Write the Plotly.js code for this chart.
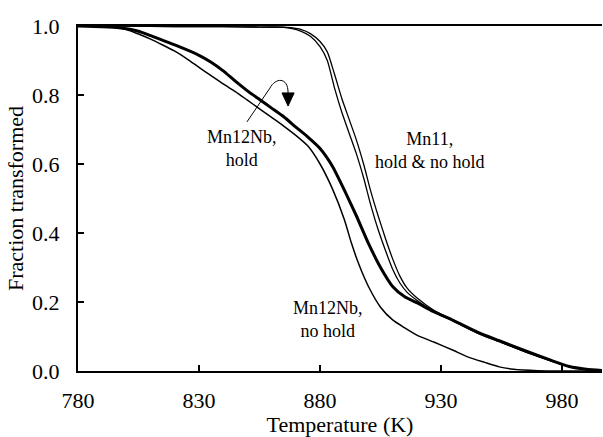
<!DOCTYPE html>
<html>
<head>
<meta charset="utf-8">
<script src="https://cdn.plot.ly/plotly-3.0.1.min.js"></script>
<style>html,body{margin:0;padding:0;background:#fff;}#chart{width:603px;height:437px;}</style>
</head>
<body>
<div id="chart"></div>
<script>
// Mn11 (hold and no hold)
const mn11_T = [780, 800, 820, 840, 855, 865, 868, 872, 876, 880, 883, 886, 889, 892, 895, 898, 901, 904, 907, 910, 913, 916, 920, 927, 935, 945, 954, 965, 975, 983, 990, 997];
const mn11_hold_f = [1.0, 1.0, 0.998, 0.998, 0.997, 0.996, 0.993, 0.985, 0.97, 0.94, 0.90, 0.82, 0.75, 0.69, 0.63, 0.56, 0.48, 0.41, 0.35, 0.295, 0.255, 0.228, 0.205, 0.172, 0.145, 0.11, 0.085, 0.055, 0.03, 0.012, 0.004, 0.0];
const mn11_nohold_f = [1.0, 1.0, 0.998, 0.998, 0.997, 0.997, 0.995, 0.99, 0.978, 0.955, 0.925, 0.86, 0.79, 0.73, 0.67, 0.60, 0.52, 0.45, 0.385, 0.325, 0.275, 0.24, 0.212, 0.176, 0.148, 0.112, 0.086, 0.056, 0.031, 0.013, 0.004, 0.0];

// Mn12Nb, hold
const hold_T = [780, 790, 797, 805, 810, 820, 830, 835, 840, 845, 850, 855, 860, 865, 870, 875, 880, 885, 890, 895, 900, 905, 910, 915, 920, 927, 935, 945, 954, 965, 975, 983, 990, 997];
const hold_f = [1.0, 0.998, 0.995, 0.985, 0.972, 0.945, 0.915, 0.895, 0.87, 0.84, 0.812, 0.787, 0.762, 0.737, 0.707, 0.678, 0.645, 0.595, 0.525, 0.45, 0.37, 0.30, 0.245, 0.215, 0.198, 0.172, 0.147, 0.113, 0.088, 0.058, 0.032, 0.013, 0.005, 0.001];

// Mn12Nb, no hold
const nohold_T = [780, 795, 800, 805, 810, 815, 820, 825, 830, 835, 840, 845, 850, 855, 860, 865, 870, 875, 880, 885, 890, 893, 896, 900, 905, 910, 915, 920, 927, 935, 941, 948, 954, 960, 970, 980, 997];
const nohold_f = [1.0, 0.998, 0.99, 0.977, 0.962, 0.945, 0.927, 0.905, 0.88, 0.856, 0.832, 0.81, 0.785, 0.76, 0.735, 0.71, 0.683, 0.652, 0.60, 0.53, 0.44, 0.37, 0.31, 0.245, 0.185, 0.148, 0.125, 0.104, 0.084, 0.06, 0.041, 0.025, 0.012, 0.005, 0.001, 0.0, 0.0];

const xTicks = [780, 830, 880, 930, 980];
const yTicks = [0.0, 0.2, 0.4, 0.6, 0.8, 1.0];

const FONT = 'Liberation Serif';

const traces = [
  {x: mn11_T, y: mn11_hold_f, mode: 'lines', line: {color: '#000', width: 1.3, shape: 'spline', smoothing: 0.6}, name: 'Mn11 hold'},
  {x: mn11_T, y: mn11_nohold_f, mode: 'lines', line: {color: '#000', width: 1.3, shape: 'spline', smoothing: 0.6}, name: 'Mn11 no hold'},
  {x: nohold_T, y: nohold_f, mode: 'lines', line: {color: '#000', width: 1.5, shape: 'spline', smoothing: 0.6}, name: 'Mn12Nb no hold'},
  {x: hold_T, y: hold_f, mode: 'lines', line: {color: '#000', width: 3, shape: 'spline', smoothing: 0.6}, name: 'Mn12Nb hold'}
];

const layout = {
  width: 603, height: 437,
  margin: {l: 78, r: 1, t: 26, b: 66},
  paper_bgcolor: '#fff', plot_bgcolor: '#fff',
  showlegend: false,
  font: {family: FONT, color: '#000'},
  xaxis: {
    range: [780, 996.5], tickvals: xTicks, ticktext: xTicks.map(String),
    ticks: 'inside', ticklen: 6, tickwidth: 1.5, tickcolor: '#000',
    showline: true, linecolor: '#000', linewidth: 2, mirror: true,
    showgrid: false, zeroline: false,
    tickfont: {family: FONT, size: 22, color: '#000'},
    ticklabelstandoff: 9,
    title: {text: 'Temperature (K)', font: {family: FONT, size: 22, color: '#000'}, standoff: 3}
  },
  yaxis: {
    range: [0, 1.0], tickvals: yTicks, ticktext: yTicks.map(v => v.toFixed(1)),
    ticks: 'inside', ticklen: 6, tickwidth: 1.5, tickcolor: '#000',
    showline: true, linecolor: '#000', linewidth: 2,
    showgrid: false, zeroline: false,
    tickfont: {family: FONT, size: 22, color: '#000'},
    ticklabelstandoff: 12,
    title: {text: 'Fraction transformed', font: {family: FONT, size: 22, color: '#000'}, standoff: 2}
  },
  annotations: [
    {x: 847.8, y: 0.646, xref: 'x', yref: 'y', text: 'Mn12Nb,<br>hold', showarrow: false, font: {family: FONT, size: 18, color: '#000'}},
    {x: 925.5, y: 0.638, xref: 'x', yref: 'y', text: 'Mn11,<br>hold &amp; no hold', showarrow: false, font: {family: FONT, size: 18, color: '#000'}},
    {x: 883.3, y: 0.148, xref: 'x', yref: 'y', text: 'Mn12Nb,<br>no hold', showarrow: false, font: {family: FONT, size: 18, color: '#000'}}
  ],
  shapes: [
    {type: 'path', xref: 'x', yref: 'y', path: 'M 849.8,0.722 L 859.3,0.82 C 861.4,0.849 866.8,0.855 866.8,0.806', line: {color: '#000', width: 1}},
    {type: 'path', xref: 'x', yref: 'y', path: 'M 864.3,0.806 L 869.3,0.806 L 866.8,0.768 Z', fillcolor: '#000', line: {color: '#000', width: 1}}
  ]
};

Plotly.newPlot('chart', traces, layout, {displayModeBar: false, staticPlot: true});
</script>
</body>
</html>
